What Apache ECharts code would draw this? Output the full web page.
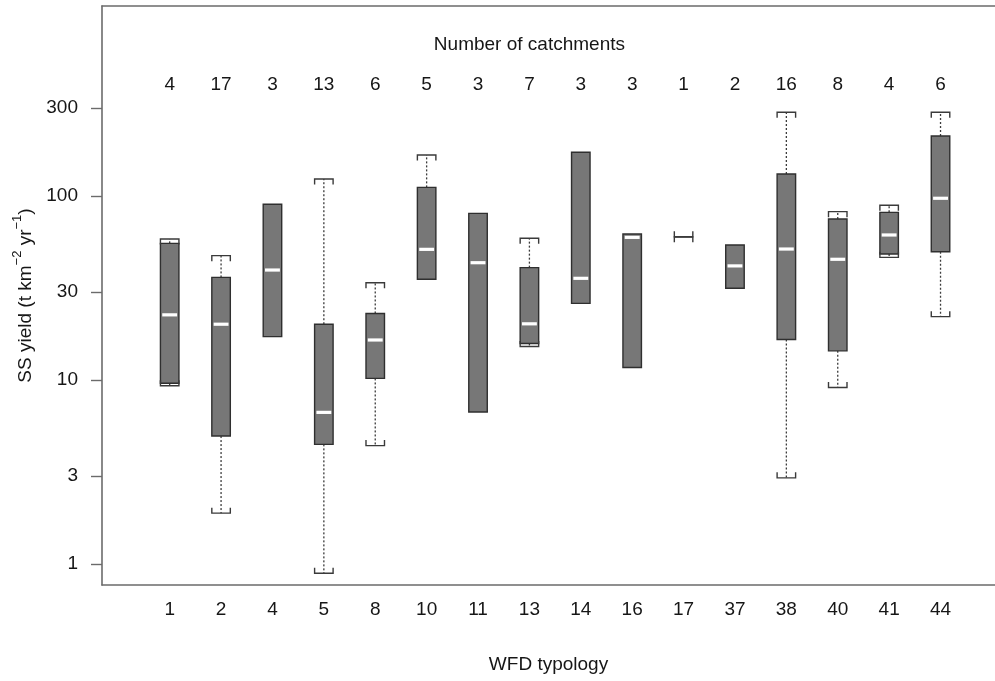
<!DOCTYPE html>
<html>
<head>
<meta charset="utf-8">
<script src="https://cdn.jsdelivr.net/npm/echarts@6/dist/echarts.min.js"></script>
<style>
  html, body { margin: 0; padding: 0; background: #ffffff; }
  #chart { width: 995px; height: 681px; }
</style>
</head>
<body>
<div id="chart"></div>
<script>
// WFD typology classes shown along the x axis
const typologies = ['1', '2', '4', '5', '8', '10', '11', '13', '14', '16', '17', '37', '38', '40', '41', '44'];
// Number of catchments in each class
const catchmentCounts = [4, 17, 3, 13, 6, 5, 3, 7, 3, 3, 1, 2, 16, 8, 4, 6];
// Suspended sediment yield summaries per class (t km-2 yr-1)
const yieldMin    = [9.3, 1.89, 17.2, 0.89, 4.4, 35.3, 6.7, 15.2, 26.1, 11.7, 60, 31.5, 2.94, 9.1, 46.4, 22.1];
const yieldQ1     = [9.6, 4.96, 17.2, 4.47, 10.2, 35.3, 6.7, 15.8, 26.1, 11.7, 60, 31.5, 16.6, 14.4, 48.4, 49.8];
const yieldMedian = [22.6, 20.1, 39.6, 6.67, 16.5, 51.3, 43.4, 20.2, 35.7, 59.6, 60, 41.7, 51.5, 45.3, 61.4, 97.2];
const yieldQ3     = [55.3, 36.1, 90.2, 20.1, 23.0, 111.4, 80.5, 40.8, 172.8, 62.2, 60, 54.2, 131.7, 75.0, 81.5, 211.8];
const yieldMax    = [58.4, 47.4, 90.2, 123.7, 33.8, 167, 80.5, 58.9, 172.8, 62.2, 60, 54.2, 285, 82.2, 89.0, 285];
// Tick values of the logarithmic yield axis
const yTicks = [1, 3, 10, 30, 100, 300];

const FONT = 'Liberation Sans, Arial, Helvetica, sans-serif';
const TEXT_COLOR = '#161616';
const FONT_SIZE = 19;
const FRAME_COLOR = '#6b6b6b';
const X_MIN = -0.317;
const X_MAX = 17.06;

const boxData = typologies.map((t, k) => [k + 1, yieldMin[k], yieldQ1[k], yieldMedian[k], yieldQ3[k], yieldMax[k]]);
const countData = catchmentCounts.map((n, k) => [k + 1, 400, String(n)]);
const headingData = [[8, 660, 'Number of catchments']];

function renderBox(params, api) {
  const i = api.value(0);
  const lo = api.value(1), q1 = api.value(2), md = api.value(3), q3 = api.value(4), hi = api.value(5);
  const half = 0.18;
  const xL = api.coord([i - half, md])[0];
  const xR = api.coord([i + half, md])[0];
  const xC = api.coord([i, md])[0];
  const yLo = api.coord([i, lo])[1];
  const yQ1 = api.coord([i, q1])[1];
  const yMd = api.coord([i, md])[1];
  const yQ3 = api.coord([i, q3])[1];
  const yHi = api.coord([i, hi])[1];
  const children = [];
  const whiskerStyle = { stroke: '#3c3c3c', lineWidth: 1.3, lineDash: [2, 2] };
  const edgeColor = '#2f2f2f';
  if (hi > q3) {
    children.push({ type: 'line', shape: { x1: xC, y1: yQ3, x2: xC, y2: yHi }, style: whiskerStyle });
  }
  if (lo < q1) {
    children.push({ type: 'line', shape: { x1: xC, y1: yQ1, x2: xC, y2: yLo }, style: whiskerStyle });
  }
  children.push({
    type: 'rect',
    shape: { x: xL, y: yQ3, width: xR - xL, height: yQ1 - yQ3 },
    style: { fill: '#777777', stroke: edgeColor, lineWidth: 1.4 }
  });
  if (q3 > q1) {
    children.push({
      type: 'line',
      shape: { x1: xL + 1.8, y1: yMd, x2: xR - 1.8, y2: yMd },
      style: { stroke: '#ffffff', lineWidth: 3.2 }
    });
  }
  const hook = 5.5;
  const capStyle = { stroke: '#3a3a3a', lineWidth: 1.4, fill: null };
  if (hi > q3 || q3 === q1) {
    children.push({
      type: 'polyline',
      shape: { points: [[xL, yHi + hook], [xL, yHi], [xR, yHi], [xR, yHi + hook]] },
      style: capStyle
    });
  }
  if (lo < q1 || q3 === q1) {
    children.push({
      type: 'polyline',
      shape: { points: [[xL, yLo - hook], [xL, yLo], [xR, yLo], [xR, yLo - hook]] },
      style: capStyle
    });
  }
  return { type: 'group', children: children };
}

function renderText(params, api) {
  const p = api.coord([api.value(0), api.value(1)]);
  return {
    type: 'text',
    x: p[0],
    y: p[1],
    style: {
      text: String(api.value(2)),
      fontSize: FONT_SIZE,
      fontFamily: FONT,
      fill: TEXT_COLOR,
      align: 'center',
      verticalAlign: 'middle'
    }
  };
}

const chart = echarts.init(document.getElementById('chart'), null, { renderer: 'canvas' });

chart.setOption({
  animation: false,
  backgroundColor: '#ffffff',
  grid: {
    left: 102,
    top: 6,
    right: 0,
    height: 579,
    show: false
  },
  xAxis: [
    {
      type: 'value',
      position: 'bottom',
      min: X_MIN,
      max: X_MAX,
      axisLine: { show: true, onZero: false, lineStyle: { color: FRAME_COLOR, width: 1.6 } },
      axisTick: { show: false },
      splitLine: { show: false },
      axisLabel: {
        customValues: typologies.map((t, k) => k + 1),
        formatter: v => typologies[Math.round(v) - 1],
        margin: 15,
        fontSize: FONT_SIZE,
        fontFamily: FONT,
        color: TEXT_COLOR
      },
      name: 'WFD typology',
      nameLocation: 'middle',
      nameGap: 70,
      nameTextStyle: { fontSize: FONT_SIZE, fontFamily: FONT, color: TEXT_COLOR }
    },
    {
      // top edge of the plot frame
      type: 'value',
      position: 'top',
      min: X_MIN,
      max: X_MAX,
      axisLine: { show: true, onZero: false, lineStyle: { color: FRAME_COLOR, width: 1.6 } },
      axisTick: { show: false },
      axisLabel: { show: false },
      splitLine: { show: false }
    }
  ],
  yAxis: {
    type: 'log',
    logBase: 10,
    min: 0.769,
    max: 1078,
    axisLine: { show: true, onZero: false, lineStyle: { color: FRAME_COLOR, width: 1.6 } },
    splitLine: { show: false },
    axisTick: {
      show: true,
      inside: false,
      customValues: yTicks,
      length: 11,
      lineStyle: { color: FRAME_COLOR, width: 1.4 }
    },
    axisLabel: {
      customValues: yTicks,
      formatter: v => String(Math.round(v * 1000) / 1000),
      margin: 24,
      fontSize: FONT_SIZE,
      fontFamily: FONT,
      color: TEXT_COLOR
    },
    name: '{m|SS yield (t km}{s|\u22122}{m| yr}{s|\u22121}{m|)}',
    nameLocation: 'middle',
    nameRotate: 90,
    nameGap: 62,
    nameTextStyle: {
      fontFamily: FONT,
      color: TEXT_COLOR,
      rich: {
        m: { fontSize: FONT_SIZE, fontFamily: FONT, color: TEXT_COLOR, lineHeight: 24, verticalAlign: 'bottom' },
        s: { fontSize: 13, fontFamily: FONT, color: TEXT_COLOR, lineHeight: 13, verticalAlign: 'top' }
      }
    }
  },
  series: [
    {
      type: 'custom',
      name: 'SS yield',
      renderItem: renderBox,
      encode: { x: 0, y: [1, 2, 3, 4, 5] },
      data: boxData,
      z: 3
    },
    {
      type: 'custom',
      name: 'Catchment counts',
      renderItem: renderText,
      encode: { x: 0, y: 1 },
      data: countData,
      z: 4
    },
    {
      type: 'custom',
      name: 'Heading',
      renderItem: renderText,
      encode: { x: 0, y: 1 },
      data: headingData,
      z: 4
    }
  ]
});
</script>
</body>
</html>
